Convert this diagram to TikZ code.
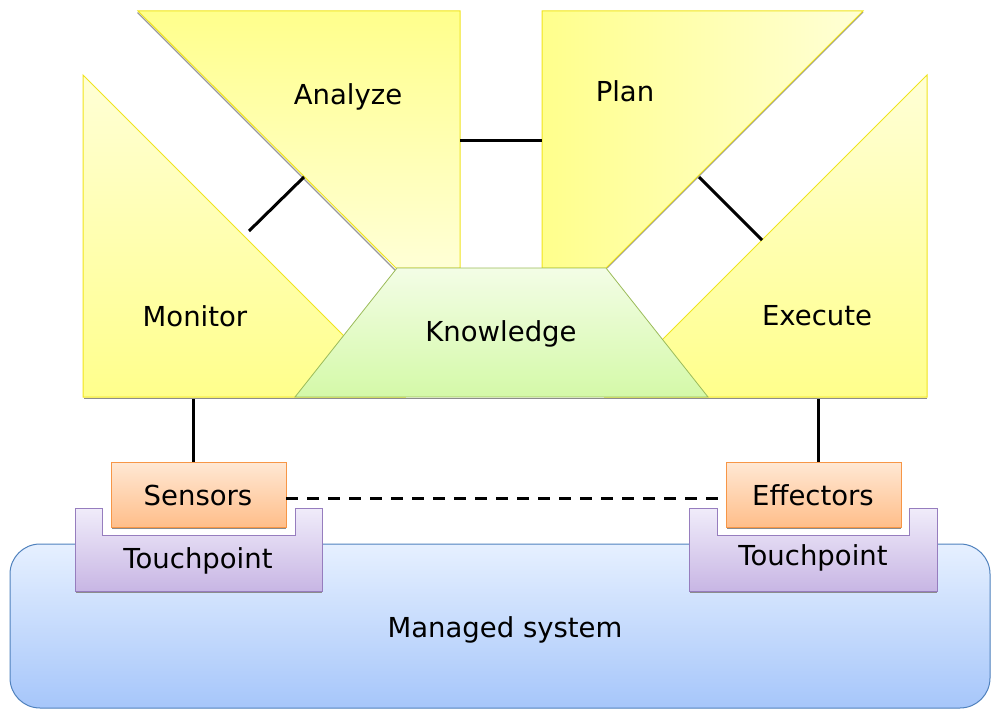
\documentclass[tikz,border=0pt]{standalone}
\usepackage{fontspec}
\setmainfont{DejaVu Sans}
\definecolor{ydark}{RGB}{255,255,140}
\definecolor{ylight}{RGB}{255,255,214}
\definecolor{yedge}{RGB}{240,228,30}
\definecolor{gtop}{RGB}{243,253,230}
\definecolor{gbot}{RGB}{212,249,168}
\definecolor{gedge}{RGB}{155,187,89}
\definecolor{otop}{RGB}{255,232,212}
\definecolor{obot}{RGB}{255,190,138}
\definecolor{oedge}{RGB}{247,150,70}
\definecolor{ptop}{RGB}{240,236,250}
\definecolor{pbot}{RGB}{200,182,228}
\definecolor{pedge}{RGB}{150,125,190}
\definecolor{btop}{RGB}{230,240,255}
\definecolor{bbot}{RGB}{166,198,250}
\definecolor{bedge}{RGB}{79,129,189}
\begin{document}
\begin{tikzpicture}[x=1pt,y=-1pt,
  lbl/.style={font=\fontsize{27.5}{32}\selectfont, text=black, inner sep=0pt},
  ybord/.style={draw=yedge, line width=1pt},
  conn/.style={draw=black, line width=3pt},
  shadowline/.style={draw=black!45, line width=1.6pt},
]
\useasboundingbox (0,0) rectangle (992,709);
% Managed system
\shade[top color=btop, bottom color=bbot, draw=bedge, line width=1pt, rounded corners=30pt]
  (10,544) rectangle (990,708);
\node[lbl] (ms) at (505,630) {Managed system};
% shadows of yellow shapes
\draw[shadowline] (84,398.5) -- (927,398.5);
\draw[draw=black!40, line width=1.2pt] (137.5,12.5) -- (395.5,270.5);
\draw[draw=black!40, line width=1.2pt] (863,12) -- (607,268);
% Yellow shapes
\shade[ybord, top color=ydark, bottom color=ylight]
  (138,11) -- (460,11) -- (460,268) -- (396,268) -- cycle;
\shade[ybord, left color=ydark, right color=ylight]
  (542,11) -- (863,11) -- (606,268) -- (542,268) -- cycle;
\shade[ybord, top color=ylight, bottom color=ydark]
  (83,75) -- (83,397) -- (405,397) -- cycle;
\shade[ybord, top color=ylight, bottom color=ydark]
  (927,75) -- (927,397) -- (605,397) -- cycle;
% Knowledge
\shade[top color=gtop, bottom color=gbot, draw=gedge, line width=0.8pt]
  (397,268) -- (606,268) -- (708,397) -- (295,397) -- cycle;
% labels
\node[lbl] (analyze) at (348,97) {Analyze};
\node[lbl] (plan) at (625,91) {Plan};
\node[lbl] (monitor) at (195,316) {Monitor};
\node[lbl] (execute) at (817,316) {Execute};
\node[lbl] (knowledge) at (501,334) {Knowledge};
% connector end points
\coordinate (aR) at (460,140);
\coordinate (pL) at (542,140);
\coordinate (mD) at (249,231);
\coordinate (aD) at (304,177);
\coordinate (pD) at (699,177);
\coordinate (eD) at (762,240);
\coordinate (mB) at (193,399);
\coordinate (eB) at (818,399);
% Touchpoints
\draw[shadowline] (76,592.5) -- (322,592.5);
\draw[shadowline] (690,592.5) -- (937,592.5);
\shade[top color=ptop, bottom color=pbot, draw=pedge, line width=1pt]
  (75,508) -- (102,508) -- (102,535) -- (295,535) -- (295,508) -- (322,508) -- (322,591) -- (75,591) -- cycle;
\shade[top color=ptop, bottom color=pbot, draw=pedge, line width=1pt]
  (689,508) -- (717,508) -- (717,535) -- (909,535) -- (909,508) -- (937,508) -- (937,591) -- (689,591) -- cycle;
\node[lbl] (tp1) at (198,561) {Touchpoint};
\node[lbl] (tp2) at (813,558) {Touchpoint};
% Sensors / Effectors
\draw[shadowline] (112,528.5) -- (286,528.5);
\draw[shadowline] (727,528.5) -- (901,528.5);
\shade[top color=otop, bottom color=obot, draw=oedge, line width=1pt]
  (111,462) rectangle (286,527);
\shade[top color=otop, bottom color=obot, draw=oedge, line width=1pt]
  (726,462) rectangle (901,527);
\node[lbl] (sensors) at (198,495) {Sensors};
\node[lbl] (effectors) at (813,495) {Effectors};
\coordinate (sT) at (193,462);
\coordinate (eT) at (818,462);
\coordinate (sR) at (286,498);
\coordinate (eL) at (726,498);
% connectors
\draw[conn] (aR) -- (pL);
\draw[conn] (mD) -- (aD);
\draw[conn] (pD) -- (eD);
\draw[conn] (mB) -- (sT);
\draw[conn] (eB) -- (eT);
\draw[conn, dash pattern=on 12pt off 9pt] (sR) -- (eL);
\end{tikzpicture}
\end{document}
